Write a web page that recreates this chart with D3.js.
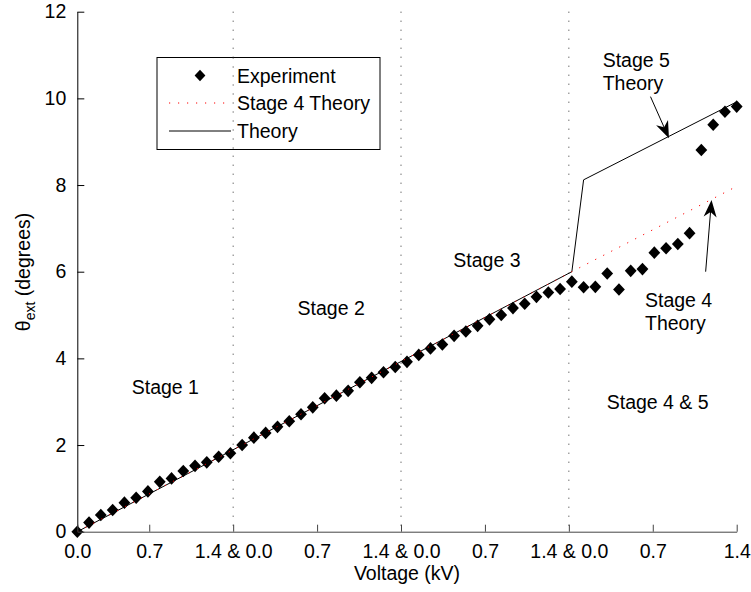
<!DOCTYPE html>
<html>
<head>
<meta charset="utf-8">
<script src="https://cdn.jsdelivr.net/npm/d3@7/dist/d3.min.js"></script>
<style>
  html, body { margin: 0; padding: 0; background: #fff; }
  svg { display: block; font-family: "Liberation Sans", Arial, Helvetica, sans-serif; }
</style>
</head>
<body>
<svg id="chart" width="751" height="592"></svg>
<script>
// ---------------- data ----------------
const voltage = [0, 0.098, 0.196, 0.295, 0.393, 0.491, 0.589, 0.688, 0.786, 0.884,
  0.982, 1.080, 1.179, 1.277, 1.375, 1.473, 1.571, 1.670, 1.768, 1.866,
  1.964, 2.063, 2.161, 2.259, 2.357, 2.455, 2.554, 2.652, 2.750, 2.848,
  2.946, 3.045, 3.143, 3.241, 3.339, 3.438, 3.536, 3.634, 3.732, 3.830,
  3.929, 4.027, 4.125, 4.223, 4.321, 4.420, 4.518, 4.616, 4.714, 4.813,
  4.911, 5.009, 5.107, 5.205, 5.304, 5.402, 5.500];
const experiment = [0, 0.21, 0.385, 0.50, 0.67, 0.785, 0.93, 1.15, 1.23, 1.40,
  1.52, 1.60, 1.73, 1.81, 2.00, 2.17, 2.28, 2.42, 2.55, 2.71,
  2.87, 3.08, 3.14, 3.25, 3.45, 3.55, 3.68, 3.80, 3.92, 4.08,
  4.23, 4.32, 4.52, 4.62, 4.75, 4.90, 5.00, 5.16, 5.26, 5.42,
  5.52, 5.60, 5.77, 5.64, 5.65, 5.96, 5.59, 6.02, 6.06, 6.44,
  6.54, 6.64, 6.89, 8.81, 9.39, 9.69, 9.81];

const theoryX = [0, 4.125, 4.223, 5.5];
const theoryY = [0, 6.0, 8.12, 9.92];
const stage4X = [0, 4.125, 5.5];
const stage4Y = [0, 6.0, 7.97];

const xTickValues = [0, 0.6, 1.3, 2.0, 2.7, 3.4, 4.1, 4.8, 5.5];
const xTickLabels = ["0.0", "0.7", "1.4 & 0.0", "0.7", "1.4 & 0.0", "0.7", "1.4 & 0.0", "0.7", "1.4"];
const yTickValues = [0, 2, 4, 6, 8, 10, 12];
const stageBoundaries = [1.3, 2.7, 4.1];

const legendLabels = ["Experiment", "Stage 4 Theory", "Theory"];
const stageLabels = [
  { lines: ["Stage 1"], x: 0.454, y: 3.18 },
  { lines: ["Stage 2"], x: 1.837, y: 5.0 },
  { lines: ["Stage 3"], x: 3.136, y: 6.12 },
  { lines: ["Stage 4 & 5"], x: 4.416, y: 2.825 },
  { lines: ["Stage 5", "Theory"], x: 4.382, y: 10.73 },
  { lines: ["Stage 4", "Theory"], x: 4.735, y: 5.18 }
];
const arrows = [
  { x1: 4.781, y1: 10.04, x2: 4.935, y2: 9.08 },
  { x1: 5.241, y1: 6.0, x2: 5.29, y2: 7.655 }
];

// ---------------- setup ----------------
const FONT = 19.5;
const svg = d3.select("#chart");
svg.append("rect").attr("width", 751).attr("height", 592).attr("fill", "#fff");

const x = d3.scaleLinear().domain([0, 5.5]).range([77.3, 736.7]);
const y = d3.scaleLinear().domain([0, 12]).range([531.7, 11.7]);

// stage boundaries (dotted)
svg.append("g").selectAll("line").data(stageBoundaries).join("line")
  .attr("x1", d => x(d)).attr("x2", d => x(d))
  .attr("y1", y(12)).attr("y2", y(0))
  .attr("stroke", "#333").attr("stroke-width", 1)
  .attr("stroke-dasharray", "1,8");

// experiment diamonds
const diamond = "M0,-6.3L5.9,0L0,6.3L-5.9,0Z";
svg.append("g").selectAll("path").data(voltage).join("path")
  .attr("d", diamond)
  .attr("transform", (d, i) => `translate(${x(d)},${y(experiment[i])})`)
  .attr("fill", "#000");

// theory line
const line = d3.line().x(d => x(d[0])).y(d => y(d[1]));
svg.append("path")
  .datum(theoryX.map((d, i) => [d, theoryY[i]]))
  .attr("d", line).attr("fill", "none").attr("stroke", "#000").attr("stroke-width", 1);

// stage 4 theory (red dotted)
svg.append("path")
  .datum(stage4X.map((d, i) => [d, stage4Y[i]]))
  .attr("d", line).attr("fill", "none").attr("stroke", "#ff0000").attr("stroke-width", 1)
  .attr("stroke-dasharray", "1.2,7.8");

// axes
const yAxis = d3.axisLeft(y).tickValues(yTickValues).tickFormat(d3.format("d"))
  .tickSizeInner(-7).tickSizeOuter(0).tickPadding(11);
const gy = svg.append("g").attr("transform", `translate(${x(0)},0)`).call(yAxis);
gy.selectAll("text").attr("font-size", FONT).attr("fill", "#000")
  .attr("font-family", "'Liberation Sans', Arial, sans-serif");
gy.selectAll("line,path").attr("stroke", "#000");

const xAxis = d3.axisBottom(x).tickValues(xTickValues).tickFormat((d, i) => xTickLabels[i])
  .tickSizeInner(-7).tickSizeOuter(0).tickPadding(12);
const gx = svg.append("g").attr("transform", `translate(0,${y(0)})`).call(xAxis);
gx.selectAll("text").attr("font-size", FONT).attr("fill", "#000")
  .attr("font-family", "'Liberation Sans', Arial, sans-serif");
gx.selectAll("line,path").attr("stroke", "#444");

// axis titles
svg.append("text").attr("x", 407).attr("y", 580).attr("text-anchor", "middle")
  .attr("font-size", FONT).attr("fill", "#000").text("Voltage (kV)");

const yl = svg.append("text").attr("transform", "translate(29.5,272) rotate(-90)")
  .attr("text-anchor", "middle").attr("font-size", FONT).attr("fill", "#000");
yl.append("tspan").text("θ");
yl.append("tspan").attr("font-size", 14).attr("dy", 5).text("ext");
yl.append("tspan").attr("dy", -5).text(" (degrees)");

// stage labels
stageLabels.forEach(s => {
  const t = svg.append("text").attr("font-size", FONT).attr("fill", "#000");
  s.lines.forEach((ln, i) => {
    t.append("tspan").attr("x", x(s.x)).attr("y", y(s.y) + i * 23).text(ln);
  });
});

// arrows
arrows.forEach(a => {
  const x1 = x(a.x1), y1 = y(a.y1), x2 = x(a.x2), y2 = y(a.y2);
  const dx = x2 - x1, dy = y2 - y1, L = Math.hypot(dx, dy);
  const ux = dx / L, uy = dy / L, px = -uy, py = ux;
  const hl = 17, hw = 6.5, notch = 12;
  svg.append("line").attr("x1", x1).attr("y1", y1)
    .attr("x2", x2 - ux * notch).attr("y2", y2 - uy * notch)
    .attr("stroke", "#000").attr("stroke-width", 1);
  const pts = [
    [x2, y2],
    [x2 - ux * hl + px * hw, y2 - uy * hl + py * hw],
    [x2 - ux * notch, y2 - uy * notch],
    [x2 - ux * hl - px * hw, y2 - uy * hl - py * hw]
  ];
  svg.append("path").attr("d", "M" + pts.map(p => p.join(",")).join("L") + "Z").attr("fill", "#000");
});

// legend
const lg = svg.append("g");
lg.append("rect").attr("x", 157).attr("y", 57.5).attr("width", 223).attr("height", 92)
  .attr("fill", "#fff").attr("stroke", "#000").attr("stroke-width", 1);
const rows = [75.5, 103, 131];
lg.append("path").attr("d", "M0,-5.8L5.4,0L0,5.8L-5.4,0Z")
  .attr("transform", `translate(200,${rows[0]})`).attr("fill", "#000");
lg.append("line").attr("x1", 169).attr("x2", 231).attr("y1", rows[1]).attr("y2", rows[1])
  .attr("stroke", "#ff0000").attr("stroke-dasharray", "1.2,7.8");
lg.append("line").attr("x1", 169).attr("x2", 231).attr("y1", rows[2]).attr("y2", rows[2])
  .attr("stroke", "#000");
legendLabels.forEach((t, i) => {
  lg.append("text").attr("x", 237).attr("y", rows[i] + 7).attr("font-size", FONT)
    .attr("fill", "#000").text(t);
});
// dotted boundary line passes over the legend box
lg.append("line").attr("x1", x(stageBoundaries[0])).attr("x2", x(stageBoundaries[0]))
  .attr("y1", 57.5).attr("y2", 149.5).attr("stroke", "#333").attr("stroke-dasharray", "1,8");
</script>
</body>
</html>
